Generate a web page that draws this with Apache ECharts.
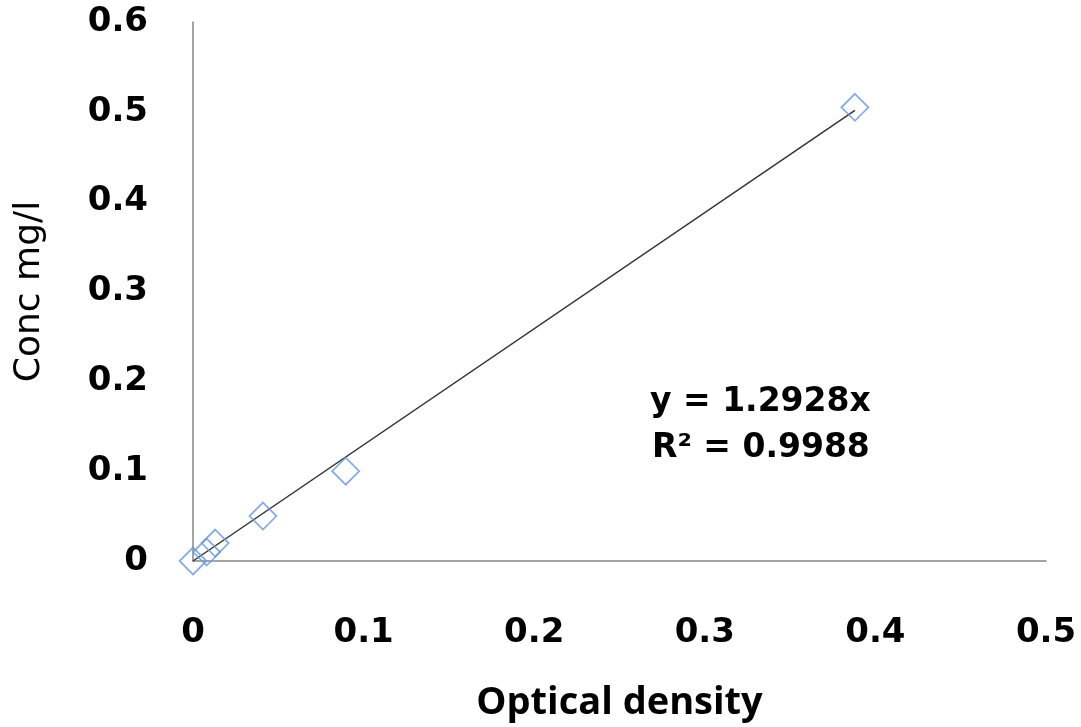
<!DOCTYPE html>
<html><head><meta charset="utf-8">
<script src="https://cdn.jsdelivr.net/npm/echarts@6/dist/echarts.min.js"></script>
<style>html,body{margin:0;padding:0;background:#fff}#c{width:1081px;height:727px}</style>
</head><body><div id="c"></div>
<script>
const opticalDensity = [0, 0.008, 0.013, 0.041, 0.0895, 0.388];
const concentration = [0, 0.01, 0.02, 0.05, 0.1, 0.505];
const slope = 1.2928;
const trendX = [0, 0.388];
const xTicks = [0, 0.1, 0.2, 0.3, 0.4, 0.5];
const yTicks = [0, 0.1, 0.2, 0.3, 0.4, 0.5, 0.6];
const equationLines = ['y = 1.2928x', 'R² = 0.9988'];

const labelFont = '"DejaVu Sans", sans-serif';
const nameFont = '"Open Sans", "DejaVu Sans", sans-serif';
const chart = echarts.init(document.getElementById('c'));
chart.setOption({
  backgroundColor: '#fff',
  animation: false,
  grid: {left: 193, right: 35, top: 22, bottom: 165},
  xAxis: {
    type: 'value', min: 0, max: 0.5, interval: 0.1,
    name: 'Optical density', nameLocation: 'middle', nameGap: 123,
    nameTextStyle: {fontFamily: nameFont, fontWeight: 'bold', fontSize: 38, color: '#000'},
    axisLine: {show: true, lineStyle: {color: '#868686', width: 1.5}},
    axisTick: {show: false},
    splitLine: {show: false},
    axisLabel: {margin: 55, fontFamily: labelFont, fontWeight: 'bold', fontSize: 34, color: '#000',
      formatter: v => String(+v.toFixed(1))}
  },
  yAxis: {
    type: 'value', min: 0, max: 0.6, interval: 0.1,
    name: 'Conc mg/l', nameLocation: 'middle', nameGap: 145,
    nameTextStyle: {fontFamily: labelFont, fontSize: 36, color: '#000'},
    axisLine: {show: true, lineStyle: {color: '#868686', width: 1.5}},
    axisTick: {show: false},
    splitLine: {show: false},
    axisLabel: {margin: 45, fontFamily: labelFont, fontWeight: 'bold', fontSize: 34, color: '#000',
      formatter: v => String(+v.toFixed(1))}
  },
  series: [
    {
      type: 'line', data: trendX.map(x => [x, slope * x]),
      symbol: 'none', lineStyle: {color: '#333', width: 1.5}, z: 2
    },
    {
      type: 'scatter', data: opticalDensity.map((x, i) => [x, concentration[i]]),
      symbol: 'diamond', symbolSize: 27,
      itemStyle: {color: 'rgba(255,255,255,0)', borderColor: '#6A98D8', borderWidth: 1.8}, z: 3
    }
  ],
  graphic: [
    {type: 'text', left: 650, top: 386, style: {text: equationLines[0], fontFamily: labelFont, fontWeight: 'bold', fontSize: 33, fill: '#000'}},
    {type: 'text', left: 652, top: 432, style: {text: equationLines[1], fontFamily: labelFont, fontWeight: 'bold', fontSize: 33, fill: '#000'}}
  ]
});
</script></body></html>
